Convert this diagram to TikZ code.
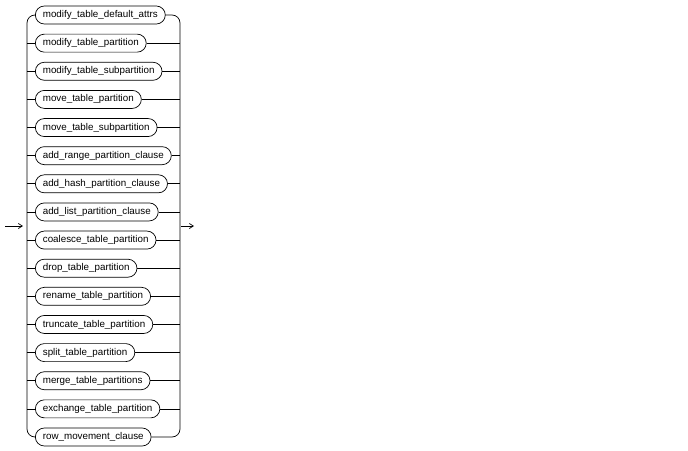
\documentclass[tikz,border=0pt]{standalone}
\usepackage{fontspec}
\setmainfont{Liberation Sans}
\usetikzlibrary{arrows.meta}
\begin{document}
\begin{tikzpicture}[x=1pt,y=-1pt,line width=0.7pt,
  term/.style={draw, rounded corners=9pt, minimum height=18pt, inner xsep=7.5pt, inner ysep=0pt, anchor=west, font=\fontsize{9.8}{11}\selectfont},
  arr/.style={-{Straight Barb[length=4pt,width=5pt]}}]
\useasboundingbox (0,0) rectangle (688,450);
\coordinate (lft) at (27,0);
\coordinate (rgt) at (180,0);
\foreach \lab [count=\i] in {modify\_table\_default\_attrs, modify\_table\_partition, modify\_table\_subpartition, move\_table\_partition, move\_table\_subpartition, add\_range\_partition\_clause, add\_hash\_partition\_clause, add\_list\_partition\_clause, coalesce\_table\_partition, drop\_table\_partition, rename\_table\_partition, truncate\_table\_partition, split\_table\_partition, merge\_table\_partitions, exchange\_table\_partition, row\_movement\_clause}{
  \node[term] (r\i) at (35,{15+28.133*(\i-1)}) {\lab};
}
\draw[rounded corners=8pt] (r1.west) -- (r1.west -| lft) -- (r16.west -| lft) -- (r16.west);
\draw[rounded corners=8pt] (r1.east) -- (r1.east -| rgt) -- (r16.east -| rgt) -- (r16.east);
\foreach \i in {2,...,15}{
  \draw (r\i.west -| lft) -- (r\i.west);
  \draw (r\i.east) -- (r\i.east -| rgt);
}
\coordinate (in) at (5,226);
\coordinate (inend) at (23,226);
\coordinate (out) at (181,226);
\coordinate (outend) at (194,226);
\draw[arr] (in) -- (inend);
\draw[arr] (out) -- (outend);
\end{tikzpicture}
\end{document}
